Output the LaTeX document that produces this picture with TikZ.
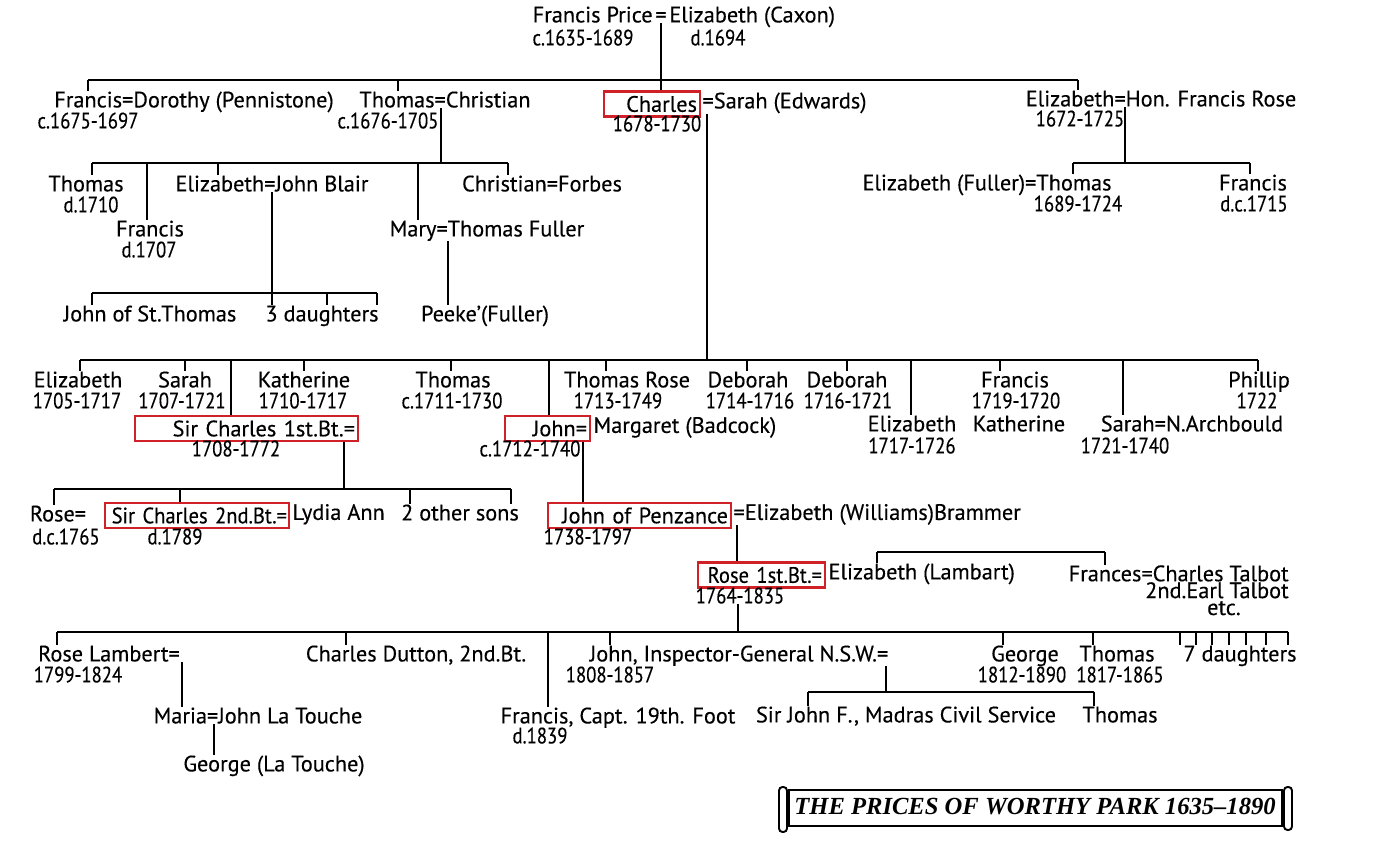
\documentclass[tikz,border=0pt]{standalone}
\usepackage{fontspec}
\setmainfont[FakeBold=0.3]{PT Sans}
\newfontfamily\datefont[FakeBold=0.3,FakeStretch=0.84]{PT Sans}
\newfontfamily\narrowfont[FakeBold=0.3,FakeStretch=0.92]{PT Sans}
\newfontfamily\titlefont{Liberation Serif}
\newdimen\pxu \pxu=0.02cm
\definecolor{boxred}{RGB}{208,32,40}
\newcommand\fsz{\fontsize{12.7}{14}\selectfont}
\tikzset{
  tx/.style={inner sep=0pt, anchor=mid, font=\fsz},
  dt/.style={inner sep=0pt, anchor=mid, font={\datefont\fsz}},
  rbox/.style={draw=boxred, line width=1.4pt, inner ysep=0pt, inner xsep=3\pxu,
    minimum height=25\pxu, align=right, font=\fsz, anchor=center},
  ln/.style={line width=1.15pt}
}
\newcommand\dropto[3]{\coordinate (dtmp) at (#1,#2); \draw[ln] (dtmp) -- (dtmp |- #3.north);}
\begin{document}
\begin{tikzpicture}[x=0.02cm,y=-0.02cm]
\useasboundingbox (0,0) rectangle (1390,856);

% generation 0
\node[tx,anchor=mid east] (fp) at (653,18) {Francis Price};
\node[tx] (eq0) at (661,18) {=};
\node[tx,anchor=mid west] (ec) at (669,18) {Elizabeth (Caxon)};
\node[dt] (fpd) at (583,41) {c.1635-1689};
\node[dt] (ecd) at (718,41) {d.1694};

% generation 1
\node[tx] (fd) at (194,103) {Francis=Dorothy (Pennistone)};
\node[dt] (fdd) at (88,124) {c.1675-1697};
\node[tx] (tc) at (445,103) {Thomas=Christian};
\node[dt] (tcd) at (388,124) {c.1676-1705};
\node[rbox,text width=90\pxu] (ch) at (652,104) {Charles};
\node[tx,anchor=mid west] (chs) at ([xshift=1\pxu]ch.east) {=Sarah (Edwards)};
\node[dt] (chd) at (657,127) {1678-1730};
\node[tx] (er) at (1161,102) {Elizabeth=Hon. Francis Rose};
\node[dt] (erd) at (1080,122) {1672-1725};

\coordinate (b0L) at (88,80); \coordinate (b0R) at (1078,80);
\draw[ln] (b0L) -- (b0R);
\draw[ln] (eq0.south) -- (eq0.south |- ch.north);
\draw[ln] (b0L) -- (b0L |- fd.north);
\dropto{398}{80}{tc}
\draw[ln] (b0R) -- (b0R |- er.north);

% Thomas's children
\node[tx] (t2) at (86,187) {Thomas};
\node[dt] (t2d) at (91,208) {d.1710};
\node[tx] (f2) at (150,232) {Francis};
\node[dt] (f2d) at (149,253) {d.1707};
\node[tx] (eb) at (272,187) {Elizabeth=John Blair};
\node[tx] (cf) at (542,187) {Christian=Forbes};
\node[tx] (mt) at (487,232) {Mary=Thomas Fuller};
\coordinate (b1L) at (92,163); \coordinate (b1R) at (508,163); \coordinate (v1) at (441,163);
\draw[ln] (b1L) -- (b1R);
\draw[ln] (v1 |- tc.south) -- (v1);
\draw[ln] (b1L) -- (b1L |- t2.north);
\dropto{147}{163}{f2}
\dropto{218}{163}{eb}
\dropto{418}{163}{mt}
\draw[ln] (b1R) -- (b1R |- cf.north);

% Elizabeth = John Blair children
\node[tx] (js) at (150,317) {John of St.Thomas};
\node[tx] (d3) at (322,317) {3 daughters};
\coordinate (b2L) at (92,293); \coordinate (b2R) at (377,293); \coordinate (b2m) at (272,293);
\draw[ln] (b2L) -- (b2R);
\draw[ln] (b2m |- eb.south) -- (b2m |- d3.north);
\draw[ln] (b2L) -- (b2L |- js.north);
\dropto{327}{293}{d3}
\draw[ln] (b2R) -- (b2R |- d3.north);

% Mary = Thomas Fuller
\node[tx] (pf) at (485,317) {Peeke’(Fuller)};
\coordinate (v2) at (448,260);
\draw[ln] (v2 |- mt.south) -- (v2 |- pf.north);

% Elizabeth = Hon. Francis Rose children
\node[tx] (eft) at (987,186) {Elizabeth (Fuller)=Thomas};
\node[dt] (eftd) at (1078,207) {1689-1724};
\node[tx] (fr3) at (1253,186) {Francis};
\node[dt] (fr3d) at (1254,207) {d.c.1715};
\coordinate (v3) at (1125,163); \coordinate (b4L) at (1073,163); \coordinate (b4R) at (1250,163);
\draw[ln] (v3 |- er.south) -- (v3);
\draw[ln] (b4L) -- (b4R);
\draw[ln] (b4L) -- (b4L |- eft.north);
\draw[ln] (b4R) -- (b4R |- fr3.north);

% Charles = Sarah children
\node[tx] (el3) at (78,383) {Elizabeth};
\node[dt] (el3d) at (77,404) {1705-1717};
\node[tx] (sa3) at (185,383) {Sarah};
\node[dt] (sa3d) at (182,404) {1707-1721};
\node[tx] (ka3) at (304,383) {Katherine};
\node[dt] (ka3d) at (303,404) {1710-1717};
\node[tx] (th3) at (453,383) {Thomas};
\node[dt] (th3d) at (452,404) {c.1711-1730};
\node[tx] (tr3) at (627,383) {Thomas Rose};
\node[dt] (tr3d) at (618,404) {1713-1749};
\node[tx] (de3) at (748,383) {Deborah};
\node[dt] (de3d) at (750,404) {1714-1716};
\node[tx] (de4) at (847,383) {Deborah};
\node[dt] (de4d) at (848,404) {1716-1721};
\node[tx] (fr4) at (1015,383) {Francis};
\node[dt] (fr4d) at (1016,404) {1719-1720};
\node[tx] (ph) at (1259,383) {Phillip};
\node[dt] (phd) at (1257,404) {1722};
\node[tx] (el4) at (912,427) {Elizabeth};
\node[dt] (el4d) at (912,449) {1717-1726};
\node[tx] (ka4) at (1019,427) {Katherine};
\node[tx] (sa4) at (1192,427) {Sarah=N.Archbould};
\node[dt] (sa4d) at (1125,449) {1721-1740};
\node[rbox,text width=217\pxu] (sc1) at (246.5,428.5) {Sir Charles 1st.Bt.=};
\node[dt] (sc1d) at (236,452) {1708-1772};
\node[rbox,text width=79\pxu] (jo) at (547.5,428.5) {John=};
\node[tx,anchor=mid west] (mb) at ([xshift=2\pxu]jo.east) {Margaret (Badcock)};
\node[dt] (jod) at (530,452) {c.1712-1740};

\coordinate (b3L) at (80,360); \coordinate (b3R) at (1258,360); \coordinate (v4) at (707,360);
\draw[ln] (b3L) -- (b3R);
\draw[ln] (v4 |- chs.south) -- (v4);
\draw[ln] (b3L) -- (b3L |- el3.north);
\dropto{185}{360}{sa3}
\dropto{231}{360}{sc1}
\dropto{304}{360}{ka3}
\dropto{451}{360}{th3}
\dropto{549}{360}{jo}
\dropto{606}{360}{tr3}
\dropto{747}{360}{de3}
\dropto{847}{360}{de4}
\dropto{911}{360}{el4}
\dropto{1000}{360}{fr4}
\dropto{1123}{360}{sa4}
\draw[ln] (b3R) -- (b3R |- ph.north);

% Sir Charles 1st Bt. children
\node[tx] (ro) at (58,517) {Rose=};
\node[dt] (rod) at (66,540) {d.c.1765};
\node[rbox,text width=180\pxu,inner xsep=2\pxu,font={\narrowfont\fsz}] (sc2) at (197,515.5) {Sir Charles 2nd.Bt.=};
\node[tx,anchor=mid west] (la) at ([xshift=2\pxu]sc2.east) {Lydia Ann};
\node[dt] (sc2d) at (175,540) {d.1789};
\node[tx] (os) at (460,516) {2 other sons};
\coordinate (b5L) at (54,489); \coordinate (b5R) at (511,489); \coordinate (v5) at (344,489);
\draw[ln] (b5L) -- (b5R);
\draw[ln] (v5 |- sc1.south) -- (v5);
\draw[ln] (b5L) -- (b5L |- ro.north);
\dropto{180}{489}{sc2}
\dropto{410}{489}{os}
\draw[ln] (b5R) -- (b5R |- os.north);

% John = Margaret child
\node[rbox,text width=177\pxu] (jp) at (639.5,515.5) {John of Penzance};
\node[tx,anchor=mid west] (ewb) at ([xshift=1\pxu]jp.east) {=Elizabeth (Williams)Brammer};
\node[dt] (jpd) at (588,540) {1738-1797};
\coordinate (v6) at (583,470);
\draw[ln] (v6 |- jo.south) -- (v6 |- jp.north);

% Rose 1st Bt.
\node[rbox,text width=121\pxu,font={\narrowfont\fsz}] (rb) at (761.5,575) {Rose 1st.Bt.=};
\node[tx,anchor=mid west] (elb) at ([xshift=2\pxu]rb.east) {Elizabeth (Lambart)};
\node[dt] (rbd) at (740,599) {1764-1835};
\node[tx,align=right,anchor=north east,font={\fontsize{12.7}{9.6}\selectfont\lineskiplimit=-30pt}] (ft) at (1289,565)
  {Frances=Charles Talbot\\2nd.Earl Talbot\\etc.\hspace*{48\pxu}};
\coordinate (v7) at (737,540);
\draw[ln] (v7 |- ewb.south) -- (v7 |- rb.north);
\coordinate (b6L) at (877,552); \coordinate (b6R) at (1105,552);
\draw[ln] (b6L) -- (b6R);
\draw[ln] (b6L) -- (b6L |- elb.north);
\draw[ln] (b6R) -- (b6R |- ft.north);

% Rose 1st Bt. children
\node[tx] (rl) at (109,657) {Rose Lambert=};
\node[dt] (rld) at (78,678) {1799-1824};
\node[tx] (mj) at (258,719) {Maria=John La Touche};
\node[tx] (gl) at (274,767) {George (La Touche)};
\node[tx] (cd) at (416,657) {Charles Dutton, 2nd.Bt.};
\node[tx] (fc) at (618,719) {Francis, Capt. 19th. Foot};
\node[dt] (fcd) at (540,739) {d.1839};
\node[tx] (ji) at (739,657) {John, Inspector-General N.S.W.=};
\node[dt] (jid) at (610,678) {1808-1857};
\node[tx] (sj) at (906,718) {Sir John F., Madras Civil Service};
\node[tx] (th6) at (1120,718) {Thomas};
\node[tx] (ge) at (1025,657) {George};
\node[dt] (ged) at (1022,678) {1812-1890};
\node[tx] (th5) at (1117,657) {Thomas};
\node[dt] (th5d) at (1120,678) {1817-1865};
\node[tx] (sd) at (1240,657) {7 daughters};

\coordinate (b7L) at (57,632); \coordinate (b7R) at (1288,632); \coordinate (v8) at (738,632);
\draw[ln] (b7L) -- (b7R);
\draw[ln] (v8 |- rbd.south) -- (v8);
\draw[ln] (b7L) -- (b7L |- rl.north);
\dropto{346}{632}{cd}
\dropto{548}{632}{fc}
\dropto{610}{632}{ji}
\dropto{1003}{632}{ge}
\dropto{1093}{632}{th5}
\foreach \xx in {1180,1196,1212,1229,1246,1266,1288} {\dropto{\xx}{632}{sd}}
\coordinate (v9) at (182,690);
\draw[ln] (v9 |- rl.south) -- (v9 |- mj.north);
\coordinate (v10) at (214,740);
\draw[ln] (v10 |- mj.south) -- (v10 |- gl.north);
\coordinate (v11) at (886,692); \coordinate (b8L) at (808,692); \coordinate (b8R) at (1094,692);
\draw[ln] (v11 |- ji.south) -- (v11);
\draw[ln] (b8L) -- (b8R);
\draw[ln] (b8L) -- (b8L |- sj.north);
\draw[ln] (b8R) -- (b8R |- th6.north);

% title banner
\draw[line width=1.3pt] (789,790) rectangle (1282,826);
\draw[line width=1.1pt, rounded corners=2pt] (779,787) rectangle (787,832);
\draw[line width=1.1pt, rounded corners=2pt] (1284,787) rectangle (1292,830);
\node[inner sep=0pt] (title) at (1035,806) {\titlefont\bfseries\itshape\fontsize{14}{16}\selectfont THE PRICES OF WORTHY PARK 1635–1890};
\end{tikzpicture}
\end{document}
